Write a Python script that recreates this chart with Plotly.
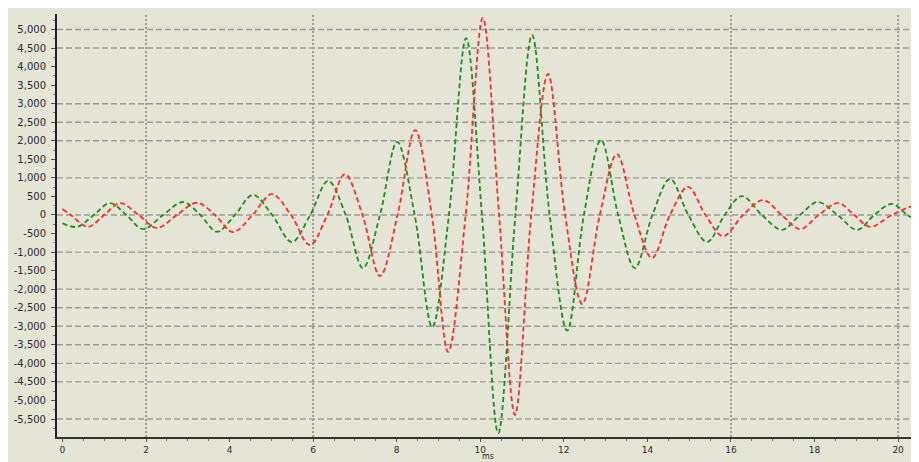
import plotly.graph_objects as go

# ---- data (time in ms, amplitude) ----
green_x = [0.0, 0.35, 0.75, 1.14, 1.53, 1.93, 2.41, 2.89, 3.30, 3.70, 4.13, 4.56, 5.02, 5.49,
           5.93, 6.36, 6.78, 7.19, 7.60, 8.01, 8.43, 8.85, 9.25, 9.66, 10.04, 10.43, 10.84,
           11.24, 11.66, 12.08, 12.48, 12.89, 13.30, 13.70, 14.12, 14.54, 14.98, 15.43, 15.85,
           16.26, 16.74, 17.22, 17.65, 18.08, 18.55, 19.02, 19.43, 19.85, 20.22, 20.5]
green_y = [-224, -320, 0, 320, 0, -380, 0, 350, 0, -450, 0, 540, 0, -730,
           0, 920, 0, -1430, 0, 1970, 0, -3020, 0, 4770, 0, -5880, 0,
           4850, 0, -3120, 0, 2020, 0, -1430, 0, 970, 0, -730, 0,
           510, 0, -400, 0, 350, 0, -400, 0, 300, 0, -190]

red_x = [0.0, 0.20, 0.61, 1.00, 1.38, 1.82, 2.26, 2.74, 3.22, 3.65, 4.08, 4.55, 5.01, 5.47,
         5.92, 6.34, 6.76, 7.18, 7.60, 8.02, 8.44, 8.84, 9.23, 9.65, 10.06, 10.45, 10.83,
         11.22, 11.62, 12.03, 12.44, 12.86, 13.27, 13.69, 14.11, 14.54, 14.97, 15.39, 15.81,
         16.29, 16.77, 17.21, 17.65, 18.10, 18.56, 18.95, 19.33, 19.85, 20.36, 20.5]
red_y = [160, 0, -320, 0, 320, 0, -350, 0, 330, 0, -460, 0, 560, 0,
         -810, 0, 1100, 0, -1650, 0, 2290, 0, -3690, 0, 5310, 0, -5390,
         0, 3800, 0, -2400, 0, 1640, 0, -1160, 0, 760, 0, -570,
         0, 400, 0, -380, 0, 320, 0, -320, 0, 240, 220]

y_tick_vals = [5000, 4500, 4000, 3500, 3000, 2500, 2000, 1500, 1000, 500, 0,
               -500, -1000, -1500, -2000, -2500, -3000, -3500, -4000, -4500, -5000, -5500]
y_tick_text = ["5,000", "4,500", "4,000", "3,500", "3,000", "2,500", "2,000", "1,500",
               "1,000", "500", "0", "-500", "-1,000", "-1,500", "-2,000", "-2,500",
               "-3,000", "-3,500", "-4,000", "-4,500", "-5,000", "-5,500"]
x_tick_vals = [0, 2, 4, 6, 8, 10, 12, 14, 16, 18, 20]
x_title = "ms"

h_grid_vals = [5000, 4500, 3000, 2500, 2000, 1000, 0, -1000, -2000, -2500, -3000,
               -3500, -4000, -4500, -5500]
v_grid_vals = [2, 6, 16, 20]

BG = "#e5e5d6"
GRID = "#9a9a96"

fig = go.Figure()
fig.add_trace(go.Scatter(x=green_x, y=green_y, mode="lines", line_shape="spline",
                         line=dict(color="#1e8c1e", width=1.8, dash="5px,3px"),
                         showlegend=False, hoverinfo="skip"))
fig.add_trace(go.Scatter(x=red_x, y=red_y, mode="lines", line_shape="spline",
                         line=dict(color="#ff2a2a", width=1.8, dash="5px,3px"),
                         showlegend=False, hoverinfo="skip"))

shapes = []
for v in h_grid_vals:
    shapes.append(dict(type="line", xref="paper", yref="y", x0=0, x1=1, y0=v, y1=v,
                       line=dict(color=GRID, width=1.4, dash="6px,3px"), layer="below"))
for v in v_grid_vals:
    shapes.append(dict(type="line", xref="x", yref="paper", x0=v, x1=v, y0=0, y1=1,
                       line=dict(color=GRID, width=2, dash="2px,2px"), layer="below"))

fig.add_annotation(text=x_title, xref="paper", yref="paper", x=0.5, y=0,
                   xanchor="center", yanchor="top", yshift=-13, showarrow=False,
                   font=dict(size=8, color="#2a2a2a"))

# page body has an 8px margin: the figure is offset by 8px right/down
fig.update_layout(
    width=919, height=462,
    margin=dict(l=49, r=8, t=6, b=33),
    paper_bgcolor=BG, plot_bgcolor=BG,
    shapes=shapes,
    font=dict(family="DejaVu Sans", size=10, color="#2a2a2a"),
    xaxis=dict(range=[-0.13, 20.5], tickvals=x_tick_vals, showgrid=False, zeroline=False,
               showline=True, linecolor="#333333", linewidth=1.5,
               ticks="outside", ticklen=3, tickcolor="#555555",
               minor=dict(dtick=0.5, ticks="outside", ticklen=2, tickcolor="#777777"),
               automargin=False, tickfont=dict(size=9)),
    yaxis=dict(range=[-5985, 5418], tickvals=y_tick_vals, ticktext=y_tick_text,
               showgrid=False, zeroline=False,
               showline=True, linecolor="#222222", linewidth=2,
               ticks="outside", ticklen=4, tickcolor="#555555", ticklabelstandoff=3,
               minor=dict(dtick=250, ticks="outside", ticklen=2, tickcolor="#777777"),
               automargin=False, tickfont=dict(size=10)),
)

fig.write_html("out.html")
